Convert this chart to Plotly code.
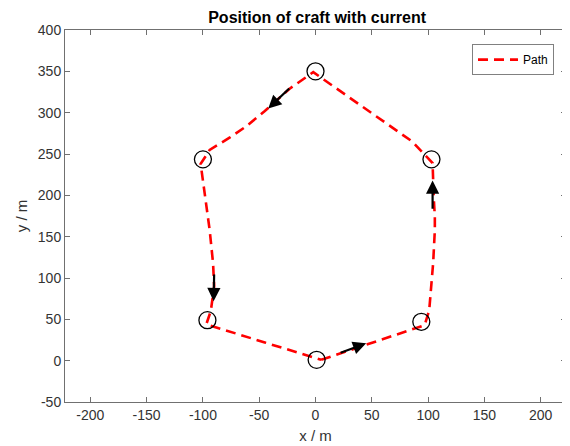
import plotly.graph_objects as go

# Waypoints (circles)
wp_x = [0, 103, 94, 1, -96, -100]
wp_y = [350, 243.5, 47, 1, 49, 243.5]

# Craft path
path_x = [5, 50, 97, 101, 103, 104.5, 106, 106, 105, 104, 86, -2, -23, -45, -62, -76, -94, -102, -98, -94, -91, -90, -93, -97, -45, 5]
path_y = [1, 22, 43, 61, 89, 118, 158, 174, 198, 239, 265, 349, 329, 302, 283, 270, 255, 238, 198, 158, 118, 90, 60, 44, 22, 1]

# Arrows (tail -> head)
arrow_tail_x = [21, 104, -22, -90]
arrow_tail_y = [9, 182, 331, 106]
arrow_head_x = [45, 104, -42, -90.5]
arrow_head_y = [21, 218, 305, 72]

# Tick labels
x_ticks = [-200, -150, -100, -50, 0, 50, 100, 150, 200]
y_ticks = [-50, 0, 50, 100, 150, 200, 250, 300, 350, 400]

FONT = "Liberation Sans, Arial, Helvetica"

fig = go.Figure()
fig.add_trace(go.Scatter(
    x=path_x, y=path_y, mode="lines", name="Path",
    line=dict(color="#ff0000", width=2.6, dash="10px,6px"),
))
fig.add_trace(go.Scatter(
    x=wp_x, y=wp_y, mode="markers", showlegend=False,
    marker=dict(symbol="circle-open", size=17, color="black", line=dict(width=1.3, color="black")),
))

for tx, ty, hx, hy in zip(arrow_tail_x, arrow_tail_y, arrow_head_x, arrow_head_y):
    fig.add_annotation(x=hx, y=hy, ax=tx, ay=ty, xref="x", yref="y", axref="x", ayref="y",
                       showarrow=True, arrowhead=2, arrowsize=1.2, arrowwidth=2.2,
                       arrowcolor="black", text="")

axis_common = dict(
    showline=True, linecolor="#707070", linewidth=1, mirror="ticks",
    ticks="inside", ticklen=5, tickcolor="#707070", showgrid=False, zeroline=False,
    automargin=False,
    tickfont=dict(family=FONT, size=14, color="#333333"),
)
fig.update_xaxes(range=[-222.5, 222.5], tickvals=x_ticks, ticktext=[str(v) for v in x_ticks],
                 title=dict(text="x / m", font=dict(family=FONT, size=15, color="#333333"), standoff=8),
                 **axis_common)
fig.update_yaxes(range=[-50, 400], tickvals=y_ticks, ticktext=[str(v) for v in y_ticks],
                 title=dict(text="y / m", font=dict(family=FONT, size=15, color="#333333"), standoff=6),
                 **axis_common)

# The page body has an 8px default margin, so the figure is sized to fill the rest of the window
fig.update_layout(
    width=562, height=438,
    margin=dict(l=57, r=4, t=22, b=44),
    paper_bgcolor="white", plot_bgcolor="white",
    title=dict(text="<b>Position of craft with current</b>", x=0.55, xanchor="center", y=0.979, yanchor="middle",
               font=dict(family=FONT, size=16, color="black")),
    legend=dict(x=0.976, y=0.962, xanchor="right", yanchor="top", bgcolor="white",
                bordercolor="#808080", borderwidth=1, itemwidth=40,
                font=dict(family=FONT, size=12, color="black")),
    showlegend=True,
)

fig.write_html("out.html")
